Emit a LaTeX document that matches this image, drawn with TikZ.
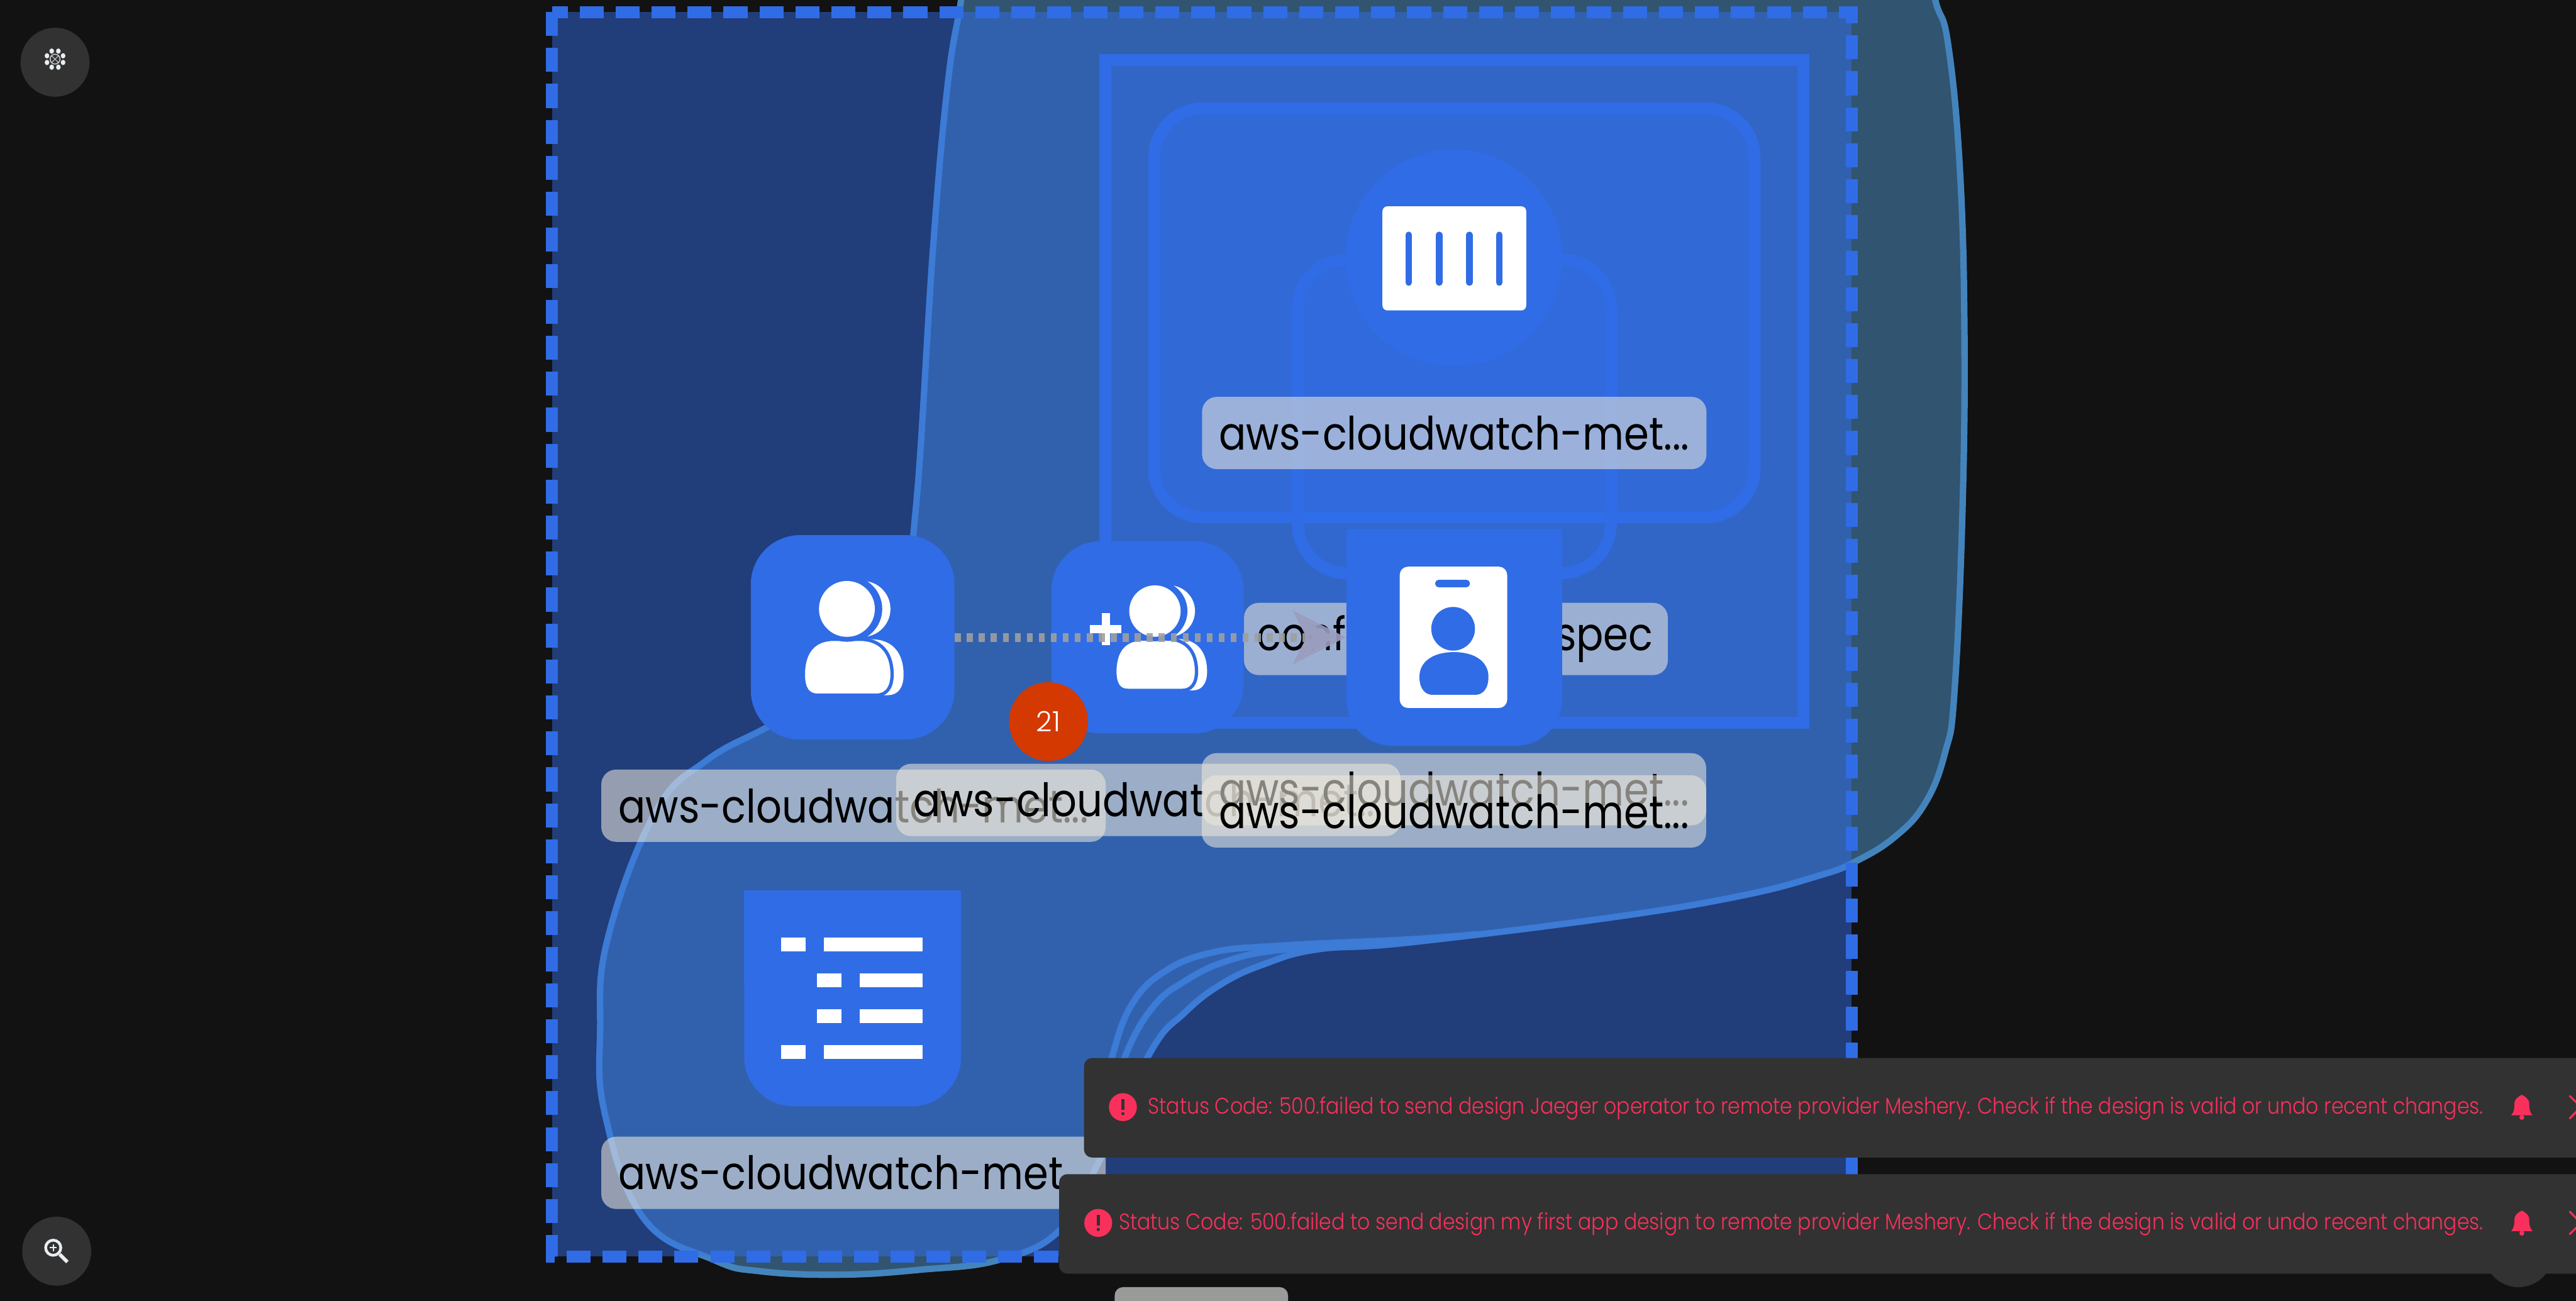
\documentclass[tikz,border=0pt]{standalone}
\usepackage{xcolor}
\usepackage{fontspec}
\setmainfont{Poppins}[UprightFont={* Light}]
\newfontfamily\labelfont{Poppins}[FakeStretch=0.875]
\newfontfamily\toastfont{Poppins}[UprightFont={* Light},FakeStretch=0.88]
\usetikzlibrary{arrows.meta,positioning,calc}

\definecolor{canvasdark}{HTML}{121212}
\definecolor{meshblue}{HTML}{306CE5}
\definecolor{groupfill}{HTML}{3371F5}
\definecolor{blobfill}{HTML}{315470}
\definecolor{blobline}{HTML}{4484BD}
\definecolor{toastgrey}{HTML}{323232}
\definecolor{toastred}{HTML}{F9305C}
\definecolor{iconwhite}{HTML}{E8EEF2}
\definecolor{labelpaper}{HTML}{EDE8DC}
\definecolor{tipgrey}{HTML}{9A9DBE}
\definecolor{badgered}{HTML}{D33900}
\definecolor{handlegrey}{HTML}{999B98}

\tikzset{
    groupline/.style={draw=meshblue, line width=7.3pt},
    blobedge/.style={draw=blobline, line width=3.9pt},
    rolenode/.style={fill=meshblue, rounded corners=30pt, inner sep=0pt},
    namelabel/.style={fill=labelpaper, fill opacity=0.57, text opacity=1, rounded corners=9pt,
        minimum width=307pt, minimum height=44pt, inner sep=0pt, font=\labelfont\fontsize{28}{30}\selectfont},
    toastbox/.style={fill=toastgrey, rounded corners=5pt, anchor=north west, minimum width=1000pt, minimum height=60.6pt},
    toasttext/.style={text=toastred, anchor=east, inner sep=0pt, font=\toastfont\fontsize{13.7}{15}\selectfont},
    roundbutton/.style={circle, fill=toastgrey, minimum size=42pt, inner sep=0pt},
}

% head and shoulders of the people icons
\def\peoplebody{(-26.5,40) .. controls (-26.5,26) and (-20,18.5) .. (-8,18.5) -- (8,18.5) .. controls (20,18.5) and (27.5,26) .. (27.5,40)
    .. controls (27.5,48) and (24,52.5) .. (18,52.5) -- (-18,52.5) .. controls (-24,52.5) and (-26.5,48) .. cycle}

\newcommand{\peopleicon}[3]{%
    \begin{scope}[shift={(#1,#2)},scale=#3]
        \fill[white] (9.5,0) circle (17);
        \fill[white,shift={(7,0)}] \peoplebody;
        \fill[meshblue] (1.5,0) circle (20);
        \filldraw[white,draw=meshblue,line width=2pt] \peoplebody;
        \fill[meshblue] (0,0) circle (20);
        \fill[white] (0,0) circle (17);
    \end{scope}}

\newcommand{\bellicon}[2]{%
    \begin{scope}[shift={(#1,#2)}]
        \fill[toastred] (-6.5,5) .. controls (-4.5,3) and (-4.5,0) .. (-4.5,-2) .. controls (-4.5,-5) and (-2,-6.5) .. (0,-7.5)
            .. controls (2,-6.5) and (4.5,-5) .. (4.5,-2) .. controls (4.5,0) and (4.5,3) .. (6.5,5) -- cycle;
        \fill[toastred] (0,6.3) circle (1.5);
    \end{scope}}

\newcommand{\alerticon}[2]{%
    \fill[toastred] (#1,#2) circle (8.5);
    \fill[toastgrey] (#1-0.9,#2-5) rectangle (#1+0.9,#2+1.5);
    \fill[toastgrey] (#1,#2+4) circle (1);}

\begin{document}
\begin{tikzpicture}[x=1pt,y=-1pt]
\useasboundingbox (0,0) rectangle (1568,792);
\clip (0,0) rectangle (1568,792);
\fill[canvasdark] (0,0) rectangle (1568,792);

% blob behind the group
\filldraw[fill=blobfill, blobedge] plot[smooth cycle, tension=0.7] coordinates {
    (590,-40) (585,0) (577,50) (568,150) (557.6,308) (548,360) (520,412) (470,441) (430,463) (398.8,494.7)
    (370,571) (365.3,627) (368.4,679) (392,742) (434.5,767) (463.5,774)
    (511.8,776) (560,773) (608,767) (645,749) (668,709) (700,641) (721,616.6) (743.6,599)
    (769.4,587) (801.7,578) (855.8,574) (981,558.5) (1060,545.3) (1107.4,533) (1128.9,524.7)
    (1153,509.8) (1171.8,489) (1184,458) (1189.7,420.9)
    (1194.6,308.6) (1195.7,197) (1192.7,98.5) (1185.6,25.6) (1178,0) (1170,-40)};
\draw[blobedge] plot[smooth, tension=0.7] coordinates {(672,670) (677.6,641) (689,611.4) (708,592) (737.3,580) (779,575.7) (855.8,572) (900,568.7)};
\draw[blobedge] plot[smooth, tension=0.7] coordinates {(678,670) (685.7,641) (701.8,613) (721,597.4) (747,585) (782.3,578) (855.8,573) (900,568.7)};

% group outlines
\draw[groupline, fill=groupfill, fill opacity=0.46, dash pattern=on 14.6pt off 7.3pt] (336,7.3) rectangle (1127,765);
\draw[groupline, fill=groupfill, fill opacity=0.35] (672.7,36.7) rectangle (1097.6,440);
\draw[groupline, fill=groupfill, fill opacity=0.35, rounded corners=30pt] (702.5,66) rectangle (1068,315);
\draw[groupline, fill=groupfill, fill opacity=0.2, rounded corners=30pt] (790,158) rectangle (980.5,349);

% container
\node[circle, fill=meshblue, minimum size=132pt, inner sep=0pt] (container) at (885,157) {};
\fill[white, rounded corners=3pt] (841.5,125.6) rectangle (929,189);
\foreach \barx in {857.4,876,894.4,912.6}
    \draw[meshblue, line width=4pt, line cap=round] (\barx,143) -- (\barx,172);
\node[namelabel] (containerlabel) at (885.2,263.6) {aws-cloudwatch-met...};

% role and binding
\node[rolenode, minimum width=124pt, minimum height=124.5pt] (serviceaccount) at (519,388) {};
\peopleicon{515.5}{370.7}{1}
\node[rolenode, minimum width=117pt, minimum height=117pt] (rolebinding) at (698.5,388) {};
\peopleicon{703}{372}{0.92}
\fill[white] (670.5,373.3) rectangle (675.5,392.7);
\fill[white] (663.3,380.5) rectangle (682.7,385.5);

\node[namelabel, minimum width=258pt, text width=258pt, anchor=west] (configlabel) at (757,389) {\hspace{8pt}conf\hfill spec\hspace{9pt}\rule{0pt}{0pt}};
\node[inner sep=0pt, minimum width=131.3pt, minimum height=132pt] (identity) at (885.1,388) {};
\draw[draw=gray!75!white, draw opacity=0.9, line width=5.4pt, dash pattern=on 3.65pt off 3.65pt,
    -{Stealth[length=32pt,width=32pt,inset=8pt,color=tipgrey]}] (serviceaccount) -- (identity);
\fill[meshblue, rounded corners=28pt] (819.5,322) -- (950.8,322) -- (950.8,454) -- (819.5,454) -- cycle;
\fill[meshblue] (819.5,322) rectangle (950.8,380);
\fill[white, rounded corners=5pt] (852,345) rectangle (917.4,431);
\fill[meshblue, rounded corners=2pt] (873.6,353) rectangle (894.7,357.5);
\fill[meshblue] (884.5,382.8) circle (13.3);
\fill[meshblue] (864,412) .. controls (864,403) and (872,397) .. (885,397) .. controls (898,397) and (906,403) .. (906,412)
    .. controls (906,420) and (902,423) .. (898,423) -- (872,423) .. controls (868,423) and (864,420) .. (864,412);

\node[circle, fill=badgered, minimum size=48pt, inner sep=0pt, text=white, font=\fontsize{17}{18}\selectfont] (errorcount) at (638.2,439.3) {21};

\node[namelabel] (accountlabel) at (519.5,490.5) {aws-cloudwatch-met...};
\node[namelabel] (bindinglabel) at (699,487) {aws-cloudwatch-met...};
\node[namelabel] (identitylabelback) at (885,480.5) {aws-cloudwatch-met...};
\node[namelabel] (identitylabel) at (885,494) {aws-cloudwatch-met...};

% metrics list
\fill[meshblue, rounded corners=30pt] (453,542) -- (585,542) -- (585,673.5) -- (453,673.5) -- cycle;
\fill[meshblue] (453,542) rectangle (585,600);
\node[inner sep=0pt, minimum size=131pt] (metrics) at (519,607.5) {};
\foreach \rowy/\startx in {570.7/475.4,592.6/497.3,614.5/497.3,636.4/475.4} {
    \fill[white] (\startx,\rowy) rectangle (\startx+15,\rowy+8.3);
    \fill[white] (\startx+26,\rowy) rectangle (561.7,\rowy+8.3);
}
\node[namelabel] (metricslabel) at (519.5,714) {aws-cloudwatch-met...};

% buttons
\node[roundbutton] (logobutton) at (33.5,37.9) {};
\foreach \petal in {22.5,67.5,...,337.5}
    \fill[iconwhite] (33.5,36) ++(\petal:5.3) ellipse (1.4 and 1.6);
\draw[iconwhite!70!gray, line width=0.6pt] (33.5,36) circle (3);
\draw[iconwhite!70!gray, line width=0.4pt] (31.5,34) -- (35.5,38) (35.5,34) -- (31.5,38);

\node[roundbutton] (zoombutton) at (34.5,761.7) {};
\draw[iconwhite, line width=1.7pt] (32.4,759.6) circle (4.6);
\draw[iconwhite, line width=2.2pt] (36.3,763.6) -- (41,768.3);
\draw[iconwhite, line width=0.8pt] (30.3,759.6) -- (34.5,759.6) (32.4,757.5) -- (32.4,761.7);

\node[roundbutton] (hiddenbutton) at (1533,762.6) {};
\fill[handlegrey, rounded corners=5pt] (678.5,783.6) rectangle (784,800);

% notifications
\node[toastbox] (jaegertoast) at (659.6,643.9) {};
\node[toastbox] (firstapptoast) at (644.5,714.6) {};
\node[toasttext] (jaegermsg) at (1511.7,674.7) {Status Code: 500.failed to send design Jaeger operator to remote provider Meshery. Check if the design is valid or undo recent changes.};
\node[toasttext] (firstappmsg) at (1511.7,745.2) {Status Code: 500.failed to send design my first app design to remote provider Meshery. Check if the design is valid or undo recent changes.};
\alerticon{683.5}{674}
\alerticon{668.5}{744.5}
\bellicon{1535}{674}
\bellicon{1535}{744.5}
\draw[toastred, line width=1.2pt] (1564,667) -- (1578,681) (1564,681) -- (1578,667);
\draw[toastred, line width=1.2pt] (1564,737.5) -- (1578,751.5) (1564,751.5) -- (1578,737.5);
\end{tikzpicture}
\end{document}
